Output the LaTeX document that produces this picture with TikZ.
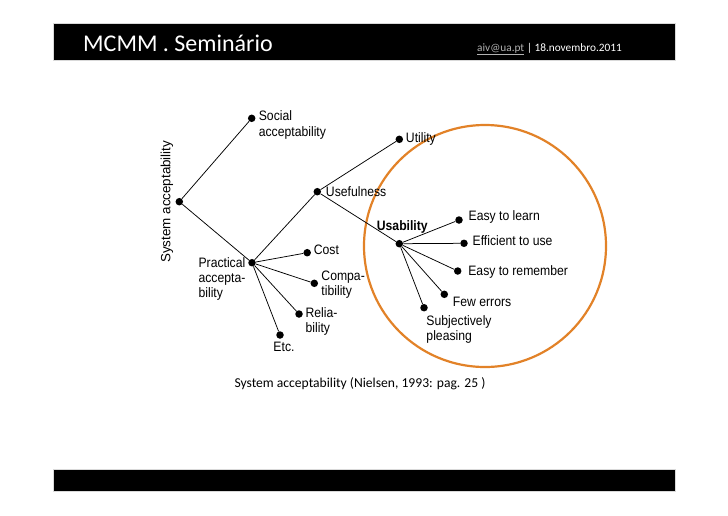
\documentclass[tikz,border=0pt]{standalone}
\usepackage{fontspec}
\setmainfont{Carlito}
\newfontfamily\figfont{Liberation Sans}
\usetikzlibrary{positioning}

\definecolor{ringorange}{RGB}{226,130,40}

\begin{document}
\begin{tikzpicture}[
    x=1pt, y=-1pt,
    dot/.style={circle, fill=black, inner sep=0pt, minimum size=7.5pt},
    lbl/.style={inner sep=1.5pt, font=\figfont\fontsize{12.2}{13.5}\selectfont, align=left, yscale=1.12, transform shape},
    link/.style={black, line width=0.75pt},
    bar/.style={fill=black, draw=black!15, line width=0.5pt, inner sep=0pt, anchor=north west},
    ring/.style={draw=ringorange, line width=2.2pt, circle, inner sep=0pt}
]
    \useasboundingbox (0,0) rectangle (728,515);

    % header and footer
    \node[bar, minimum width=622pt, minimum height=37pt] (topbar) at (53,23) {};
    \node[bar, minimum width=622pt, minimum height=22pt] (botbar) at (53,469) {};
    \node[anchor=base west, inner sep=0pt, text=white, font=\fontsize{24}{27}\selectfont] (title) at (83,51) {MCMM . Seminário};
    \node[anchor=base west, inner sep=0pt, font=\fontsize{11.3}{12}\selectfont] (contact) at (477,51)
        {\textcolor{black!30}{\underline{aiv@ua.pt}} \textcolor{white}{| 18.novembro.2011}};

    % usability circle
    \node[ring, minimum size=242pt] (usabring) at (485,246) {};

    % tree points
    \node[dot] (sys) at (179.3,201.7) {};
    \node[dot] (social) at (251.7,118.3) {};
    \node[dot] (practical) at (252,262.7) {};
    \node[dot] (useful) at (317.3,191.7) {};
    \node[dot] (utility) at (399.3,139.3) {};
    \node[dot] (usab) at (399.3,243.7) {};
    \node[dot] (cost) at (307.2,252.7) {};
    \node[dot] (compat) at (314.3,283.3) {};
    \node[dot] (reliab) at (299,314) {};
    \node[dot] (etc) at (280,335) {};
    \node[dot] (learn) at (459,220) {};
    \node[dot] (effic) at (464,243.3) {};
    \node[dot] (remember) at (457.7,271) {};
    \node[dot] (errors) at (444.3,294.3) {};
    \node[dot] (pleasing) at (424,307.7) {};

    % labels
    \node[inner sep=1pt, rotate=90, anchor=south, font=\figfont\fontsize{13.4}{15}\selectfont] (systxt) at ([xshift=-1pt]sys.west) {System acceptability};
    \node[lbl, right=1.5pt of social, yshift=-6pt] (socialtxt) {Social\\acceptability};
    \node[lbl, left=1pt of practical, yshift=-14.5pt] (practicaltxt) {Practical\\accepta-\\bility};
    \node[lbl, right=3pt of useful] (usefultxt) {Usefulness};
    \node[lbl, right=1pt of utility] (utilitytxt) {Utility};
    \node[lbl, above=5pt of usab, xshift=3pt, font=\figfont\bfseries\fontsize{12.2}{13.5}\selectfont] (usabtxt) {Usability};
    \node[lbl, right=1pt of cost, yshift=3pt] (costtxt) {Cost};
    \node[lbl, right=1.5pt of compat, yshift=-1pt] (compattxt) {Compa-\\tibility};
    \node[lbl, right=1pt of reliab, yshift=-7pt] (reliabtxt) {Relia-\\bility};
    \node[lbl, below=1pt of etc, xshift=4pt] (etctxt) {Etc.};
    \node[lbl, right=4pt of learn, yshift=3pt] (learntxt) {Easy to learn};
    \node[lbl, right=3pt of effic, yshift=2.5pt] (effictxt) {Efficient to use};
    \node[lbl, right=5pt of remember, yshift=-1pt] (remembertxt) {Easy to remember};
    \node[lbl, right=3pt of errors, yshift=-7pt] (errorstxt) {Few errors};
    \node[lbl, below right=3pt and -2pt of pleasing] (pleasingtxt) {Subjectively\\pleasing};

    % branches
    \foreach \a/\b in {sys/social, sys/practical, practical/useful, useful/utility, useful/usab,
                       practical/cost, practical/compat, practical/reliab, practical/etc,
                       usab/learn, usab/effic, usab/remember, usab/errors, usab/pleasing}
        \draw[link] (\a) -- (\b);

    % caption
    \node[anchor=base west, inner sep=0pt, font=\fontsize{13.6}{15}\selectfont] (caption) at (234.3,387) {System acceptability (Nielsen, 1993: pag. 25 )};
\end{tikzpicture}
\end{document}
